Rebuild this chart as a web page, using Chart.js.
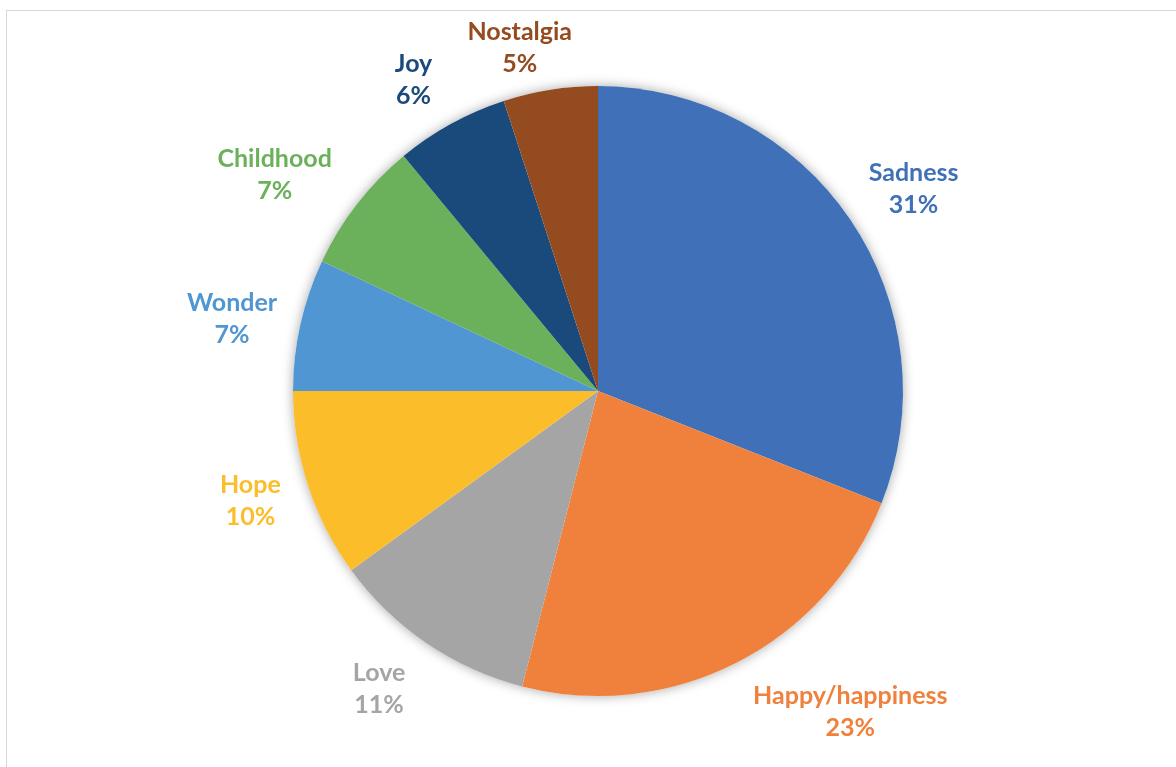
<!DOCTYPE html>
<html>
<head>
<meta charset="utf-8">
<script src="https://cdn.jsdelivr.net/npm/chart.js@4.4.1/dist/chart.umd.min.js"></script>
<style>
  html, body { margin: 0; padding: 0; background: #fff; overflow: hidden; }
  #wrap { position: relative; width: 1176px; height: 767px; }
  #frame { position: absolute; left: 6px; top: 10px; width: 1300px; height: 900px; border: 1px solid #d9d9d9; }
  #pie { position: absolute; left: 0; top: 0; }
</style>
</head>
<body>
<div id="wrap">
  <div id="frame"></div>
  <canvas id="pie" width="1176" height="767"></canvas>
</div>
<script>
// Emotion shares (percent), clockwise from 12 o'clock
const emotions = ['Sadness', 'Happy/happiness', 'Love', 'Hope', 'Wonder', 'Childhood', 'Joy', 'Nostalgia'];
const shares = [31, 23, 11, 10, 7, 7, 6, 5];
const sliceColors = ['#4071B8', '#F0813C', '#A5A5A5', '#FBBD29', '#4F96D2', '#6BB05A', '#1A4A7B', '#954B20'];

// soft glow under the whole pie
const pieShadow = {
  id: 'pieShadow',
  beforeDatasetsDraw(chart) {
    const arc = chart.getDatasetMeta(0).data[0];
    if (!arc) return;
    const { x, y, outerRadius } = arc.getProps(['x', 'y', 'outerRadius'], true);
    const ctx = chart.ctx;
    ctx.save();
    ctx.shadowColor = 'rgba(0,0,0,0.35)';
    ctx.shadowBlur = 12;
    ctx.fillStyle = '#fff';
    ctx.beginPath();
    ctx.arc(x, y, outerRadius, 0, Math.PI * 2);
    ctx.fill();
    ctx.restore();
  }
};

// two-line name / percent labels outside each slice
const outsideLabels = {
  id: 'outsideLabels',
  afterDatasetsDraw(chart, args, opts) {
    const ctx = chart.ctx;
    const arcs = chart.getDatasetMeta(0).data;
    ctx.save();
    ctx.font = opts.font;
    ctx.textAlign = 'center';
    ctx.textBaseline = 'middle';
    arcs.forEach((arc, i) => {
      const { x, y, startAngle, endAngle, outerRadius } =
        arc.getProps(['x', 'y', 'startAngle', 'endAngle', 'outerRadius'], true);
      const mid = (startAngle + endAngle) / 2;
      const ux = Math.cos(mid), uy = Math.sin(mid);
      const lines = [emotions[i], shares[i] + '%'];
      const w = Math.max(...lines.map(t => ctx.measureText(t).width));
      const h = opts.lineHeight * lines.length;
      const r = outerRadius + opts.gap;
      const nudge = opts.nudge[i] || [0, 0];
      const cx = x + ux * (r + w / 2) + nudge[0];
      const cy = y + uy * (r + h / 2) + nudge[1];
      ctx.fillStyle = sliceColors[i];
      lines.forEach((t, k) => {
        ctx.fillText(t, cx, cy + (k - (lines.length - 1) / 2) * opts.lineHeight);
      });
    });
    ctx.restore();
  }
};

new Chart(document.getElementById('pie'), {
  type: 'pie',
  data: {
    labels: emotions,
    datasets: [{
      data: shares,
      backgroundColor: sliceColors,
      borderWidth: 0,
      radius: 305
    }]
  },
  options: {
    responsive: false,
    animation: false,
    layout: { padding: { left: 20, right: 0, top: 86, bottom: 71 } },
    plugins: {
      legend: { display: false },
      tooltip: { enabled: false },
      outsideLabels: {
        font: 'bold 25px Lato',
        lineHeight: 32,
        gap: 28,
        nudge: [[3, 3], [57, -4], [-17, -4], [-2, -3], [3, 8], [-15, 8], [-15, 9], [-18, 17]]
      }
    }
  },
  plugins: [pieShadow, outsideLabels]
});
</script>
</body>
</html>
